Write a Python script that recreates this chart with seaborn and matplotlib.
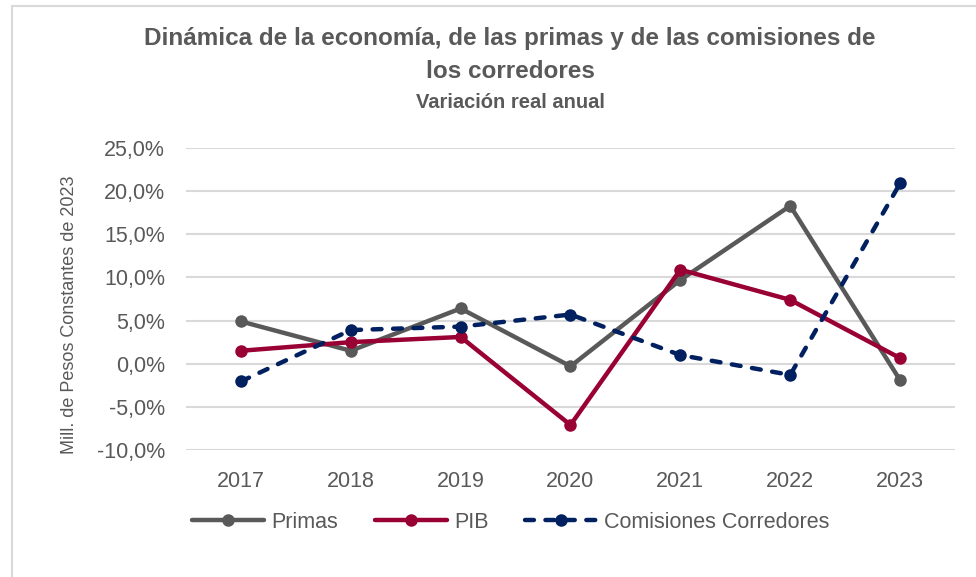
import matplotlib
matplotlib.use("Agg")
import matplotlib.pyplot as plt
import matplotlib.ticker as mticker
from matplotlib.patches import Rectangle
import seaborn as sns
import pandas as pd

years = ["2017", "2018", "2019", "2020", "2021", "2022", "2023"]
primas = [4.9, 1.5, 6.4, -0.3, 9.7, 18.3, -1.9]
pib = [1.5, 2.5, 3.1, -7.1, 10.9, 7.4, 0.65]
comisiones = [-2.05, 3.9, 4.3, 5.7, 1.0, -1.3, 20.9]

GREY = "#595959"

sns.set_style("white")
plt.rcParams["font.family"] = ["Liberation Sans", "DejaVu Sans"]

fig = plt.figure(figsize=(9.76, 5.77), dpi=100)
ax = fig.add_axes([186 / 976, 1 - 450 / 577, (955 - 186) / 976, (450 - 148) / 577])

# chart area border (only left/top visible in the crop)
fig.patches.append(Rectangle((12 / 976, -0.2), 1.2, 1.2 - 6 / 577,
                             transform=fig.transFigure, fill=False,
                             edgecolor="#d9d9d9", lw=1.5))

df = pd.DataFrame({"year": years, "Primas": primas, "PIB": pib,
                   "Comisiones Corredores": comisiones})
x = list(range(len(years)))

style = dict(lw=3.2, marker="o", markersize=9, markeredgewidth=0)
sns.lineplot(x=x, y=df["Primas"], ax=ax, color=GREY, label="Primas", **style)
sns.lineplot(x=x, y=df["PIB"], ax=ax, color="#990033", label="PIB", **style)
sns.lineplot(x=x, y=df["Comisiones Corredores"], ax=ax, color="#002060",
             linestyle=(0, (2.0, 2.6)), dash_capstyle="round",
             label="Comisiones Corredores", **style)

ax.set_xlim(-0.5, len(years) - 0.5)
ax.set_ylim(-10, 25)
ax.set_xticks(x)
ax.set_xticklabels(years)
ax.yaxis.set_major_locator(mticker.MultipleLocator(5))
ax.yaxis.set_major_formatter(mticker.FuncFormatter(lambda v, p: f"{v:.1f}%".replace(".", ",")))
ax.grid(True, axis="y", color="#d9d9d9", lw=1.5)
ax.set_axisbelow(True)
for s in ax.spines.values():
    s.set_visible(False)
ax.tick_params(axis="both", length=0, labelsize=15.5, labelcolor=GREY)
ax.tick_params(axis="y", pad=15)
ax.tick_params(axis="x", pad=15)
ax.set_xlabel("")
ax.set_ylabel("")
fig.text(70 / 976, 1 - 315 / 577, "Mill. de Pesos Constantes de 2023", rotation=90,
         ha="center", va="center", fontsize=13, color=GREY)

fig.text(510 / 976, 1 - 38 / 577, "Dinámica de la economía, de las primas y de las comisiones de",
         ha="center", va="center", fontsize=17.5, fontweight="bold", color=GREY)
fig.text(510 / 976, 1 - 71 / 577, "los corredores", ha="center", va="center",
         fontsize=17.5, fontweight="bold", color=GREY)
fig.text(510 / 976, 1 - 103 / 577, "Variación real anual", ha="center", va="center",
         fontsize=14.5, fontweight="bold", color=GREY)

ax.legend(loc="center", bbox_to_anchor=(511 / 976, 1 - 522 / 577),
          bbox_transform=fig.transFigure, ncol=3, frameon=False,
          fontsize=15.5, labelcolor=GREY, handlelength=3.35, columnspacing=1.7,
          handletextpad=0.33)

fig.savefig("out.png", dpi=100)
